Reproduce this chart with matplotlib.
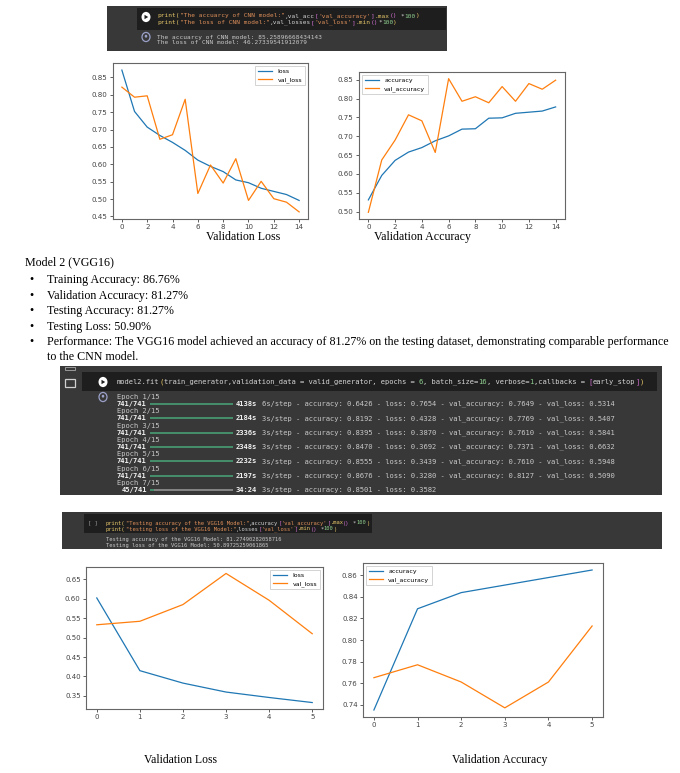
import matplotlib
matplotlib.use('Agg')
import matplotlib.pyplot as plt
from matplotlib.patches import Rectangle, Circle, Polygon
from matplotlib.lines import Line2D

# ---------------- data ----------------
cnn_epochs = list(range(15))
cnn_loss = [0.871, 0.752, 0.707, 0.683, 0.663, 0.640, 0.612, 0.594, 0.579, 0.555, 0.547, 0.531, 0.522, 0.513, 0.496]
cnn_val_loss = [0.822, 0.793, 0.797, 0.672, 0.685, 0.787, 0.516, 0.598, 0.546, 0.616, 0.496, 0.551, 0.501, 0.491, 0.463]
cnn_acc = [0.531, 0.596, 0.636, 0.658, 0.670, 0.688, 0.701, 0.719, 0.720, 0.748, 0.749, 0.761, 0.764, 0.767, 0.778]
cnn_val_acc = [0.498, 0.637, 0.690, 0.757, 0.741, 0.657, 0.853, 0.793, 0.805, 0.789, 0.832, 0.793, 0.840, 0.825, 0.849]

vgg_epochs = list(range(6))
vgg_loss = [0.602, 0.415, 0.383, 0.360, 0.346, 0.333]
vgg_val_loss = [0.533, 0.542, 0.585, 0.665, 0.596, 0.510]
vgg_acc = [0.735, 0.829, 0.844, 0.851, 0.858, 0.865]
vgg_val_acc = [0.765, 0.777, 0.761, 0.737, 0.761, 0.813]

cnn_xticks = [0, 2, 4, 6, 8, 10, 12, 14]
vgg_xticks = [0, 1, 2, 3, 4, 5]

bullets = ["Training Accuracy: 86.76%",
           "Validation Accuracy: 81.27%",
           "Testing Accuracy: 81.27%",
           "Testing Loss: 50.90%",
           "Performance: The VGG16 model achieved an accuracy of 81.27% on the testing dataset, demonstrating comparable performance"]
bullet_cont = "to the CNN model."

log_epoch_labels = ["Epoch 1/15", "Epoch 2/15", "Epoch 3/15", "Epoch 4/15", "Epoch 5/15", "Epoch 6/15", "Epoch 7/15"]
log_steps = ["741/741", "741/741", "741/741", "741/741", "741/741", "741/741", " 45/741"]
log_times = ["4138s", "2184s", "2336s", "2348s", "2232s", "2197s", "34:24"]
log_rest = [" 6s/step - accuracy: 0.6426 - loss: 0.7654 - val_accuracy: 0.7649 - val_loss: 0.5314",
            " 3s/step - accuracy: 0.8192 - loss: 0.4328 - val_accuracy: 0.7769 - val_loss: 0.5407",
            " 3s/step - accuracy: 0.8395 - loss: 0.3870 - val_accuracy: 0.7610 - val_loss: 0.5841",
            " 3s/step - accuracy: 0.8470 - loss: 0.3692 - val_accuracy: 0.7371 - val_loss: 0.6632",
            " 3s/step - accuracy: 0.8555 - loss: 0.3439 - val_accuracy: 0.7610 - val_loss: 0.5948",
            " 3s/step - accuracy: 0.8676 - loss: 0.3280 - val_accuracy: 0.8127 - val_loss: 0.5090",
            " 3s/step - accuracy: 0.8501 - loss: 0.3582"]

# ---------------- figure helpers ----------------
W, H = 680, 773
fig = plt.figure(figsize=(W / 100, H / 100), dpi=100)
fig.patch.set_facecolor('white')
renderer = fig.canvas.get_renderer()

MONO = 'DejaVu Sans Mono'
SERIF = 'Liberation Serif'


def add_ax(l, t, r, b):
    return fig.add_axes([l / W, 1 - b / H, (r - l) / W, (b - t) / H])


def rect(l, t, r, b, color, z=0):
    fig.patches.append(Rectangle((l / W, 1 - b / H), (r - l) / W, (b - t) / H,
                                 transform=fig.transFigure, facecolor=color,
                                 edgecolor='none', zorder=z))


def hline(x0, x1, y, color, lw):
    fig.lines.append(Line2D([x0 / W, x1 / W], [1 - y / H, 1 - y / H], transform=fig.transFigure,
                            color=color, lw=lw, solid_capstyle='butt'))


_adv_cache = {}


def char_adv(size, weight='normal'):
    key = (size, weight)
    if key not in _adv_cache:
        ws = []
        for n in (20, 120):
            t = fig.text(0, 0, 'x' * n, fontsize=size, family=MONO, fontweight=weight)
            ws.append(t.get_window_extent(renderer).width)
            t.remove()
        _adv_cache[key] = (ws[1] - ws[0]) / 100.0
    return _adv_cache[key]


def code_line(x, y, segs, size):
    """segs: list of (text, color[, weight]); monospace columns positioned by measured advance."""
    adv = char_adv(size)
    attrs = []
    for s, c, *w in segs:
        wt = w[0] if w else 'normal'
        attrs.extend([(ch, c, wt) for ch in s])
    i = 0
    n = len(attrs)
    while i < n:
        ch, c, wt = attrs[i]
        if ch == ' ':
            i += 1
            continue
        j = i
        while j < n and attrs[j][1] == c and attrs[j][2] == wt:
            j += 1
        run = ''.join(a[0] for a in attrs[i:j]).rstrip()
        fig.text((x + i * adv) / W, 1 - y / H, run, color=c, fontsize=size, family=MONO,
                 va='center', ha='left', fontweight=wt)
        i = j


def play_icon(x, y, r=4.5):
    fig.patches.append(Circle((x / W, 1 - y / H), r / W, transform=fig.transFigure,
                              facecolor='white', edgecolor='none', zorder=3))
    tri = [((x - 1.5) / W, 1 - (y - 2.2) / H), ((x - 1.5) / W, 1 - (y + 2.2) / H),
           ((x + 2.2) / W, 1 - y / H)]
    fig.patches.append(Polygon(tri, closed=True, transform=fig.transFigure,
                               facecolor='#1e1e1e', edgecolor='none', zorder=4))


def out_icon(x, y, r=4.0):
    fig.patches.append(Circle((x / W, 1 - y / H), r / W, transform=fig.transFigure,
                              facecolor='none', edgecolor='#9aa0c8', lw=0.9, zorder=3))
    fig.patches.append(Circle((x / W, 1 - (y - 0.8) / H), 1.3 / W, transform=fig.transFigure,
                              facecolor='#9aa0c8', edgecolor='none', zorder=3))


YEL = '#e8c86a'
STR = '#e0905a'
VAR = '#d4d4d4'
PUR = '#d070d0'
NUM = '#8fcf8f'
OUT = '#c8c8c8'

# ---------------- code cell 1 ----------------
rect(107, 6, 447, 51, '#383838')
rect(137, 8, 446, 30, '#1e1e1e', z=1)
play_icon(146, 17)
cs = 4.4
code_line(157, 16, [("print", YEL), ("(", YEL), ('"The accuarcy of CNN model:"', STR), (",val_acc", VAR),
                    ("[", PUR), ("'val_accuracy'", STR), ("]", PUR), (".max", YEL), ("()", PUR),
                    (" *", VAR), ("100", NUM), (")", YEL)], cs)
code_line(157, 22.5, [("print", YEL), ("(", YEL), ('"The loss of CNN model:"', STR), (",val_losses", VAR),
                      ("[", PUR), ("'val_loss'", STR), ("]", PUR), (".min", YEL), ("()", PUR),
                      ("*", VAR), ("100", NUM), (")", YEL)], cs)
out_icon(146, 37)
code_line(157, 37, [("The accuarcy of CNN model: 85.25896668434143", OUT)], cs)
code_line(157, 43, [("The loss of CNN model: 46.27339541912079", OUT)], cs)


# ---------------- chart helper ----------------
def style_ax(ax, xticks, lsize):
    for sp in ax.spines.values():
        sp.set_color('#666666')
        sp.set_linewidth(0.8)
    ax.tick_params(labelsize=lsize, length=2.5, width=0.6, colors='#444444', pad=1.3)
    ax.set_xticks(xticks)


def draw(ax, x, a, b, la, lb, xticks, loc, lsize):
    ax.plot(x, a, color='#1f77b4', lw=0.9, label=la)
    ax.plot(x, b, color='#ff7f0e', lw=0.9, label=lb)
    style_ax(ax, xticks, lsize)
    leg = ax.legend(loc=loc, fontsize=4.5, handlelength=2.3, borderpad=0.45,
                    labelspacing=0.35, handletextpad=0.8, fancybox=False, framealpha=1)
    leg.get_frame().set_edgecolor('#cccccc')
    leg.get_frame().set_linewidth(0.6)


ax1 = add_ax(113, 63, 308, 219)
draw(ax1, cnn_epochs, cnn_loss, cnn_val_loss, 'loss', 'val_loss', cnn_xticks, 'upper right', 5.1)
ax2 = add_ax(359, 72, 565, 219)
draw(ax2, cnn_epochs, cnn_acc, cnn_val_acc, 'accuracy', 'val_accuracy', cnn_xticks, 'upper left', 5.1)

fig.text(243 / W, 1 - 237 / H, "Validation Loss", family=SERIF, fontsize=8.6, ha='center', va='center')
fig.text(422 / W, 1 - 236.5 / H, "Validation Accuracy", family=SERIF, fontsize=8.6, ha='center', va='center')

# ---------------- body text ----------------
BS = 8.65
fig.text(25 / W, 1 - 262 / H, "Model 2 (VGG16)", family=SERIF, fontsize=BS, ha='left', va='center')
ys = [280, 296, 311, 327, 342]
for y, t in zip(ys, bullets):
    fig.text(29 / W, 1 - y / H, "\u2022", family=SERIF, fontsize=BS, ha='left', va='center')
    fig.text(47 / W, 1 - y / H, t, family=SERIF, fontsize=BS, ha='left', va='center')
fig.text(47 / W, 1 - 357 / H, bullet_cont, family=SERIF, fontsize=BS, ha='left', va='center')

# ---------------- code cell 2 (training log) ----------------
rect(60, 366, 662, 495, '#383838')
rect(82, 372, 657, 391, '#1e1e1e', z=1)
# folder icon
fig.patches.append(Rectangle((65 / W, 1 - 387 / H), 10 / W, 8 / H, transform=fig.transFigure,
                             facecolor='none', edgecolor='#d0d0d0', lw=0.9, zorder=3))
fig.patches.append(Rectangle((65 / W, 1 - 370 / H), 10 / W, 3 / H, transform=fig.transFigure,
                             facecolor='none', edgecolor='#9a9a9a', lw=0.7, zorder=3))
play_icon(103, 382)
ls = 5.15
code_line(117, 382, [("model2.fit", VAR), ("(", YEL), ("train_generator,validation_data = valid_generator, epochs = ", VAR),
                     ("6", NUM), (", batch_size=", VAR), ("16", NUM), (", verbose=", VAR), ("1", NUM),
                     (",callbacks = ", VAR), ("[", PUR), ("early_stop", VAR), ("]", PUR), (")", YEL)], ls)
out_icon(103, 397)
y0 = 397
dy = 7.15
GAP = 21
adv_l = char_adv(ls)
for i in range(len(log_epoch_labels)):
    ye = y0 + 2 * i * dy
    ys2 = ye + dy
    code_line(117, ye, [(log_epoch_labels[i], OUT)], ls)
    code_line(117, ys2, [(log_steps[i], '#f0f0f0', 'bold'), (' ' * GAP, OUT),
                         (log_times[i], '#f0f0f0', 'bold'), (log_rest[i], OUT)], ls)
    bx0 = 117 + (len(log_steps[i]) + 0.8) * adv_l
    bx1 = 117 + (len(log_steps[i]) + GAP - 0.6) * adv_l
    if i < len(log_epoch_labels) - 1:
        hline(bx0, bx1, ys2, '#4aa87a', 1.1)
    else:
        hline(bx0, bx0 + 4, ys2, '#4aa87a', 1.1)
        hline(bx0 + 4, bx1, ys2, '#9a9a9a', 1.1)

# ---------------- code cell 3 ----------------
rect(62, 512, 662, 549, '#383838')
rect(84, 514, 372, 533, '#1e1e1e', z=1)
cs3 = 3.9
code_line(88, 523, [("[ ]", '#a0a0a0')], cs3)
code_line(106, 523, [("print", YEL), ("(", YEL), ('"Testing accuracy of the VGG16 Model:"', STR), (",accuracy", VAR),
                     ("[", PUR), ("'val_accuracy'", STR), ("]", PUR), (".max", YEL), ("()", PUR),
                     (" *", VAR), ("100", NUM), (")", YEL)], cs3)
code_line(106, 529, [("print", YEL), ("(", YEL), ('"testing loss of the VGG16 Model:"', STR), (",losses", VAR),
                     ("[", PUR), ("'val_loss'", STR), ("]", PUR), (".min", YEL), ("()", PUR),
                     (" *", VAR), ("100", NUM), (")", YEL)], cs3)
code_line(106, 540, [("Testing accuracy of the VGG16 Model: 81.27490282058716", OUT)], cs3)
code_line(106, 545, [("Testing loss of the VGG16 Model: 50.89725259061865", OUT)], cs3)

# ---------------- bottom charts ----------------
ax3 = add_ax(86, 567, 323, 709)
draw(ax3, vgg_epochs, vgg_loss, vgg_val_loss, 'loss', 'val_loss', vgg_xticks, 'upper right', 5.0)
ax4 = add_ax(363, 563, 603, 717)
draw(ax4, vgg_epochs, vgg_acc, vgg_val_acc, 'accuracy', 'val_accuracy', vgg_xticks, 'upper left', 5.0)

fig.text(180 / W, 1 - 760 / H, "Validation Loss", family=SERIF, fontsize=8.4, ha='center', va='center')
fig.text(500 / W, 1 - 760 / H, "Validation Accuracy", family=SERIF, fontsize=8.4, ha='center', va='center')

fig.savefig('out.png', dpi=100)
